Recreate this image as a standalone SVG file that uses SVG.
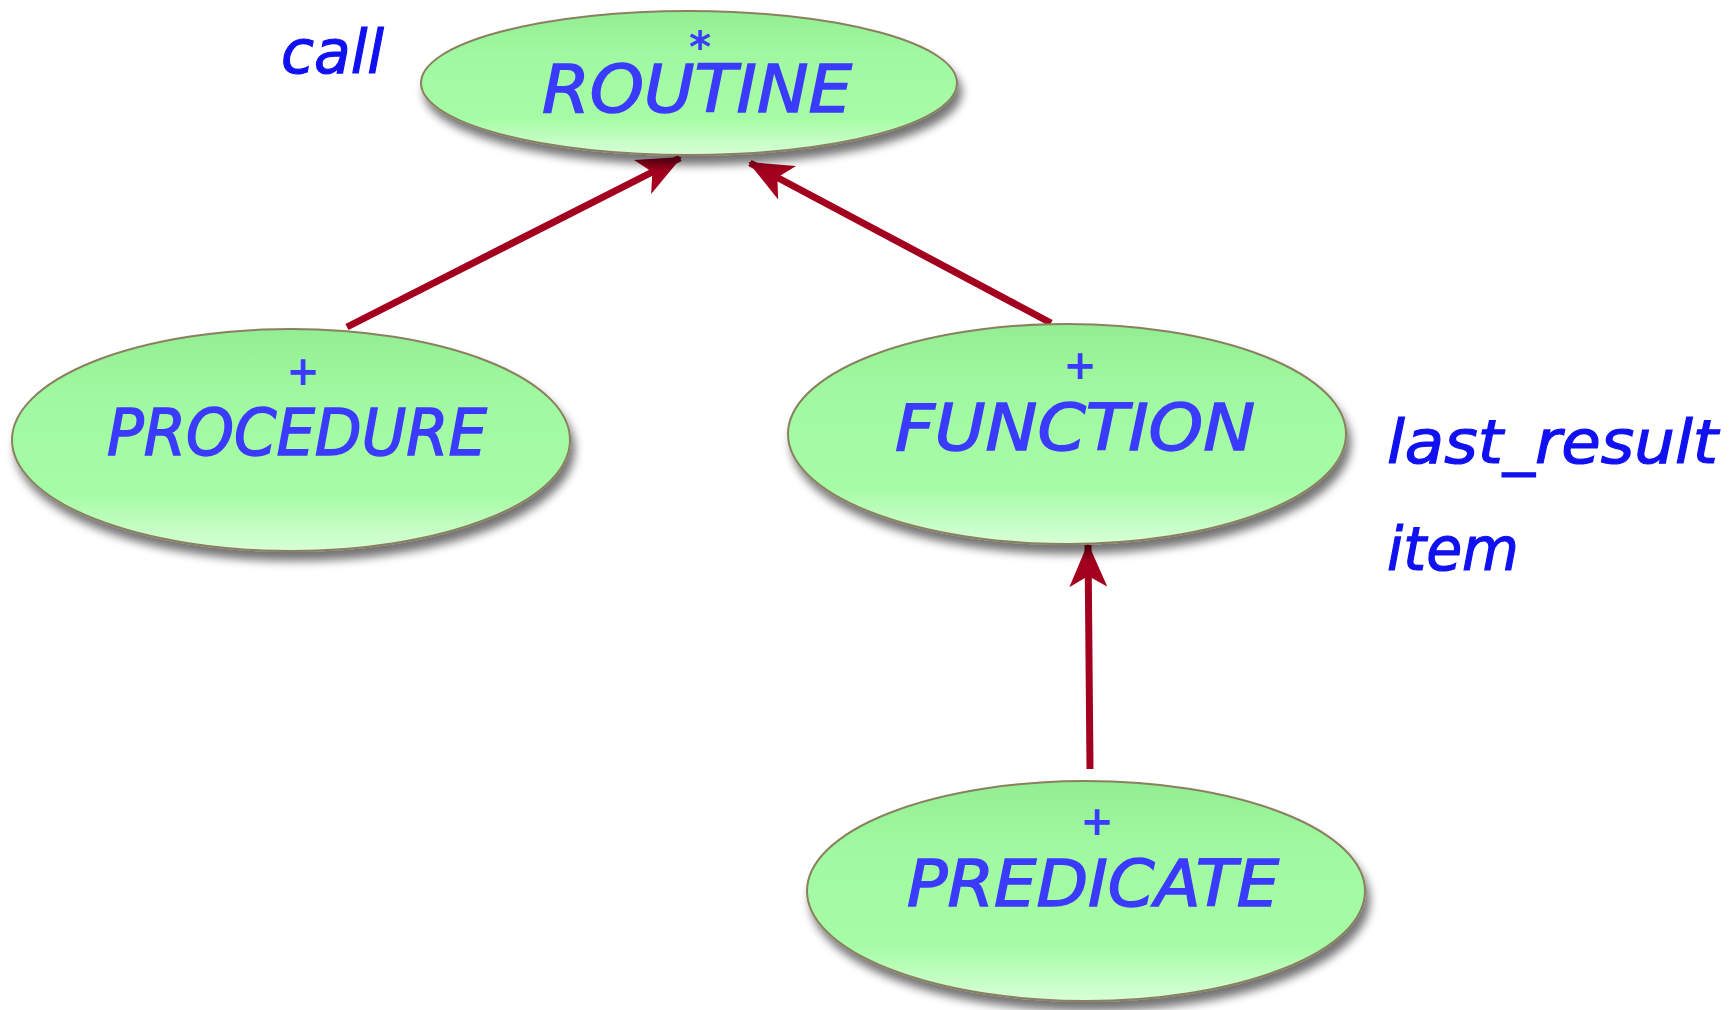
<svg xmlns="http://www.w3.org/2000/svg" width="1729" height="1010" viewBox="0 0 1729 1010">
<style>
.node{fill:url(#g);stroke:#8a8060;stroke-width:2;filter:url(#sh)}
.nt{font-family:"DejaVu Sans",sans-serif;font-style:italic;fill:#3b3bff;stroke:#3b3bff;stroke-width:1.5;text-anchor:middle}
.pl{font-family:"DejaVu Sans",sans-serif;font-weight:bold;fill:#3b3bff;text-anchor:middle}
.lbl{font-family:"DejaVu Sans",sans-serif;font-style:italic;fill:#1010f0;stroke:#1010f0;stroke-width:1.2}
.edge{stroke:#a3001f;stroke-width:7;fill:none;marker-end:url(#ah)}
</style>
<defs>
<linearGradient id="g" x1="0" y1="0" x2="0" y2="1">
<stop offset="0" stop-color="#93ee93"/>
<stop offset="0.3" stop-color="#a0f9a0"/>
<stop offset="0.75" stop-color="#a6fca6"/>
<stop offset="1" stop-color="#d8ffd8"/>
</linearGradient>
<filter id="sh" x="-10%" y="-20%" width="125%" height="150%">
<feGaussianBlur in="SourceAlpha" stdDeviation="5"/>
<feOffset dx="4" dy="9" result="b"/>
<feComponentTransfer><feFuncA type="linear" slope="0.55"/></feComponentTransfer>
<feMerge><feMergeNode/><feMergeNode in="SourceGraphic"/></feMerge>
</filter>
<marker id="ah" viewBox="0 0 44 38" refX="42" refY="19" markerWidth="44" markerHeight="38" markerUnits="userSpaceOnUse" orient="auto">
<path d="M0,0 L44,19 L0,38 L11,19 Z" fill="#a3001f"/>
</marker>
</defs>
<g id="connectors">
<line class="edge" x1="347" y1="327" x2="680" y2="158"/>
<line class="edge" x1="1051" y1="323" x2="750" y2="163"/>
<line class="edge" x1="1090" y1="769" x2="1088" y2="545"/>
</g>
<g id="routine">
<ellipse class="node" cx="689" cy="83" rx="268" ry="72"/>
<text class="pl" x="700" y="62" font-size="42">*</text>
<text class="nt" x="697" y="112" font-size="66" textLength="310" lengthAdjust="spacingAndGlyphs">ROUTINE</text>
</g>
<g id="procedure">
<ellipse class="node" cx="291" cy="440" rx="279" ry="111"/>
<text class="pl" x="303" y="385" font-size="40">+</text>
<text class="nt" x="297" y="455" font-size="64" textLength="380" lengthAdjust="spacingAndGlyphs">PROCEDURE</text>
</g>
<g id="function">
<ellipse class="node" cx="1067" cy="434" rx="279" ry="110"/>
<text class="pl" x="1080" y="379" font-size="40">+</text>
<text class="nt" x="1075" y="450" font-size="64" textLength="360" lengthAdjust="spacingAndGlyphs">FUNCTION</text>
</g>
<g id="predicate">
<ellipse class="node" cx="1086" cy="891" rx="279" ry="110"/>
<text class="pl" x="1097" y="835" font-size="40">+</text>
<text class="nt" x="1093" y="906" font-size="64" textLength="372" lengthAdjust="spacingAndGlyphs">PREDICATE</text>
</g>
<g id="labels">
<text class="lbl" x="281" y="73" font-size="60" textLength="103" lengthAdjust="spacingAndGlyphs">call</text>
<text class="lbl" x="1387" y="463" font-size="60" textLength="331" lengthAdjust="spacingAndGlyphs">last_result</text>
<text class="lbl" x="1387" y="570" font-size="60" textLength="132" lengthAdjust="spacingAndGlyphs">item</text>
</g>
</svg>
